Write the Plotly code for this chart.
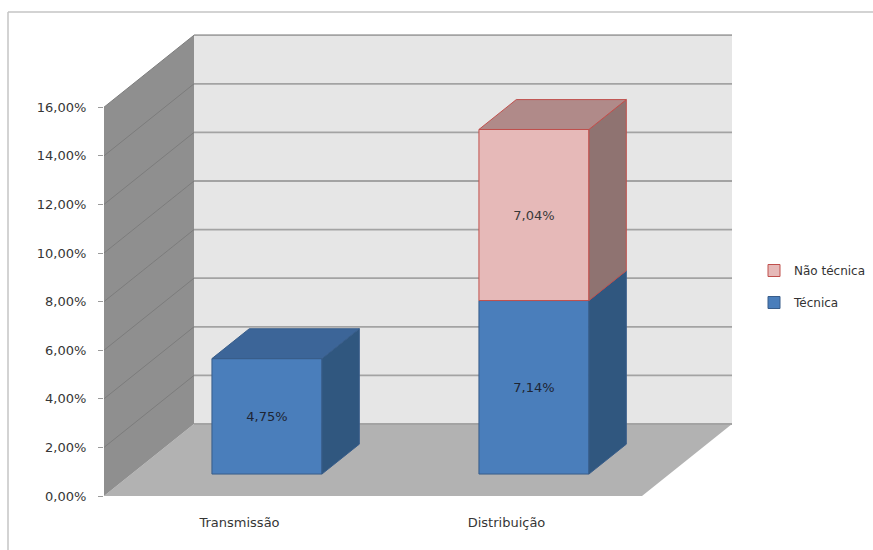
import plotly.graph_objects as go

# ---- data ----
categories = ["Transmissão", "Distribuição"]
tecnica = [4.75, 7.14]          # %
nao_tecnica = [None, 7.04]      # %
y_ticks = [0, 2, 4, 6, 8, 10, 12, 14, 16]

# ---- geometry (layout constants, pixel based) ----
W_PX, H_PX = 873, 550
PL, PR, PT, PB = 104, 745, 0, 496      # plot area in pixels
K = 24.3                               # px per % unit (y)
U = 267.0                              # px per category unit (x)
X0 = 239.5                             # pixel of category 0 on front plane
DX = 90 / U                            # full depth, x units
DY = 72 / K                            # full depth, y units
F0, F1 = 0.305, 0.72                   # bar depth fractions
BW = 110 / U                           # bar width
YMAX = y_ticks[-1]

x_lo = (PL - X0) / U
x_hi = (PR - X0) / U
y_lo = 0
y_hi = (PB - PT) / K

def fmt(v):
    return f"{v:.2f}".replace(".", ",") + "%"

def ppx(px):
    return (px - PL) / (PR - PL)

def ppy(py):
    return 1 - (py - PT) / (PB - PT)

BLUE = dict(front="#4a7ebb", top="#3c6598", side="#30577f", edge="#385d8a")
PINK = dict(front="#e6b9b8", top="#b08a89", side="#8f7371", edge="#c0504d")

fig = go.Figure()

# ---- walls / floor as shapes ----
xb_l = x_lo + DX
xf_r = (642 - X0) / U
xb_r = xf_r + DX
shapes = []
def path(pts):
    return "M " + " L ".join(f"{x},{y}" for x, y in pts) + " Z"

# floor
shapes.append(dict(type="path", xref="x", yref="y", layer="below",
                   path=path([(x_lo, 0), (xf_r, 0), (xb_r, DY), (xb_l, DY)]),
                   fillcolor="#b2b2b2", line=dict(width=0)))
# left wall
shapes.append(dict(type="path", xref="x", yref="y", layer="below",
                   path=path([(x_lo, 0), (xb_l, DY), (xb_l, YMAX + DY), (x_lo, YMAX)]),
                   fillcolor="#8f8f8f", line=dict(width=0)))
# back wall
shapes.append(dict(type="path", xref="x", yref="y", layer="below",
                   path=path([(xb_l, DY), (xb_r, DY), (xb_r, YMAX + DY), (xb_l, YMAX + DY)]),
                   fillcolor="#e6e6e6", line=dict(width=0)))
# gridlines
for v in y_ticks:
    shapes.append(dict(type="line", xref="x", yref="y", layer="below",
                       x0=xb_l, x1=xb_r, y0=v + DY, y1=v + DY,
                       line=dict(color="#a3a3a3", width=1.8)))
    if v > 0:
        shapes.append(dict(type="line", xref="x", yref="y", layer="below",
                           x0=x_lo, x1=xb_l, y0=v, y1=v + DY,
                           line=dict(color="#7c7c7c", width=1)))
# outer chart border (top + left)
shapes.append(dict(type="line", xref="paper", yref="paper",
                   x0=ppx(8), x1=ppx(873), y0=ppy(12), y1=ppy(12),
                   line=dict(color="#c4c4c4", width=1.5)))
shapes.append(dict(type="line", xref="paper", yref="paper",
                   x0=ppx(8), x1=ppx(8), y0=ppy(12), y1=ppy(550),
                   line=dict(color="#c4c4c4", width=1.5)))

# ---- bars (front faces) ----
xc = [i + F0 * DX for i in range(len(categories))]
b0 = F0 * DY
fig.add_trace(go.Bar(
    x=xc, y=tecnica, base=[b0] * len(tecnica), width=BW, name="Técnica",
    legendgroup="t", legendrank=2,
    marker=dict(color=BLUE["front"], line=dict(color=BLUE["edge"], width=1)),
    text=[fmt(v) for v in tecnica], textposition="inside", insidetextanchor="middle",
    textangle=0, constraintext="none",
    textfont=dict(family="DejaVu Sans", size=13, color="#1e2533"),
))
fig.add_trace(go.Bar(
    x=xc, y=nao_tecnica,
    base=[b0 + t for t in tecnica], width=BW, name="Não técnica",
    legendgroup="n", legendrank=1,
    marker=dict(color=PINK["front"], line=dict(color=PINK["edge"], width=1)),
    text=[fmt(v) if v is not None else "" for v in nao_tecnica],
    textposition="inside", insidetextanchor="middle",
    textangle=0, constraintext="none",
    textfont=dict(family="DejaVu Sans", size=13, color="#3a3a3a"),
))

# ---- 3D side/top faces computed from the data ----
ddx = (F1 - F0) * DX
ddy = (F1 - F0) * DY
def poly(pts, fill, edge):
    xs = [p[0] for p in pts] + [pts[0][0]]
    ys = [p[1] for p in pts] + [pts[0][1]]
    fig.add_trace(go.Scatter(x=xs, y=ys, mode="lines", fill="toself",
                             fillcolor=fill, line=dict(color=edge, width=1),
                             showlegend=False, hoverinfo="skip", cliponaxis=False))

for i, c in enumerate(xc):
    segs = [(b0, b0 + tecnica[i], BLUE)]
    if nao_tecnica[i]:
        segs.append((b0 + tecnica[i], b0 + tecnica[i] + nao_tecnica[i], PINK))
    for j, (yb, yt, col) in enumerate(segs):
        xl, xr = c - BW / 2, c + BW / 2
        poly([(xr, yb), (xr + ddx, yb + ddy), (xr + ddx, yt + ddy), (xr, yt)], col["side"], col["edge"])
        if j == len(segs) - 1:
            poly([(xl, yt), (xr, yt), (xr + ddx, yt + ddy), (xl + ddx, yt + ddy)], col["top"], col["edge"])

fig.update_layout(
    width=W_PX, height=H_PX,
    margin=dict(l=PL, r=W_PX - PR, t=PT, b=H_PX - PB),
    paper_bgcolor="white", plot_bgcolor="rgba(0,0,0,0)",
    barmode="overlay",
    shapes=shapes,
    font=dict(family="DejaVu Sans", size=13, color="#363636"),
    showlegend=True,
    legend=dict(x=ppx(754), y=ppy(256), xanchor="left", yanchor="top",
                traceorder="grouped", tracegroupgap=13,
                bgcolor="rgba(0,0,0,0)", font=dict(size=12, color="#333333")),
    xaxis=dict(range=[x_lo, x_hi], tickvals=list(range(len(categories))), ticktext=categories,
               showgrid=False, zeroline=False, showline=False, ticks="",
               ticklabelstandoff=17, fixedrange=True),
    yaxis=dict(range=[y_lo, y_hi], tickvals=y_ticks, ticktext=[fmt(v) for v in y_ticks],
               showgrid=False, zeroline=False, showline=False,
               ticks="outside", ticklen=5, tickcolor="#9a9a9a",
               ticklabelstandoff=9, fixedrange=True),
)

fig.write_html("out.html")
